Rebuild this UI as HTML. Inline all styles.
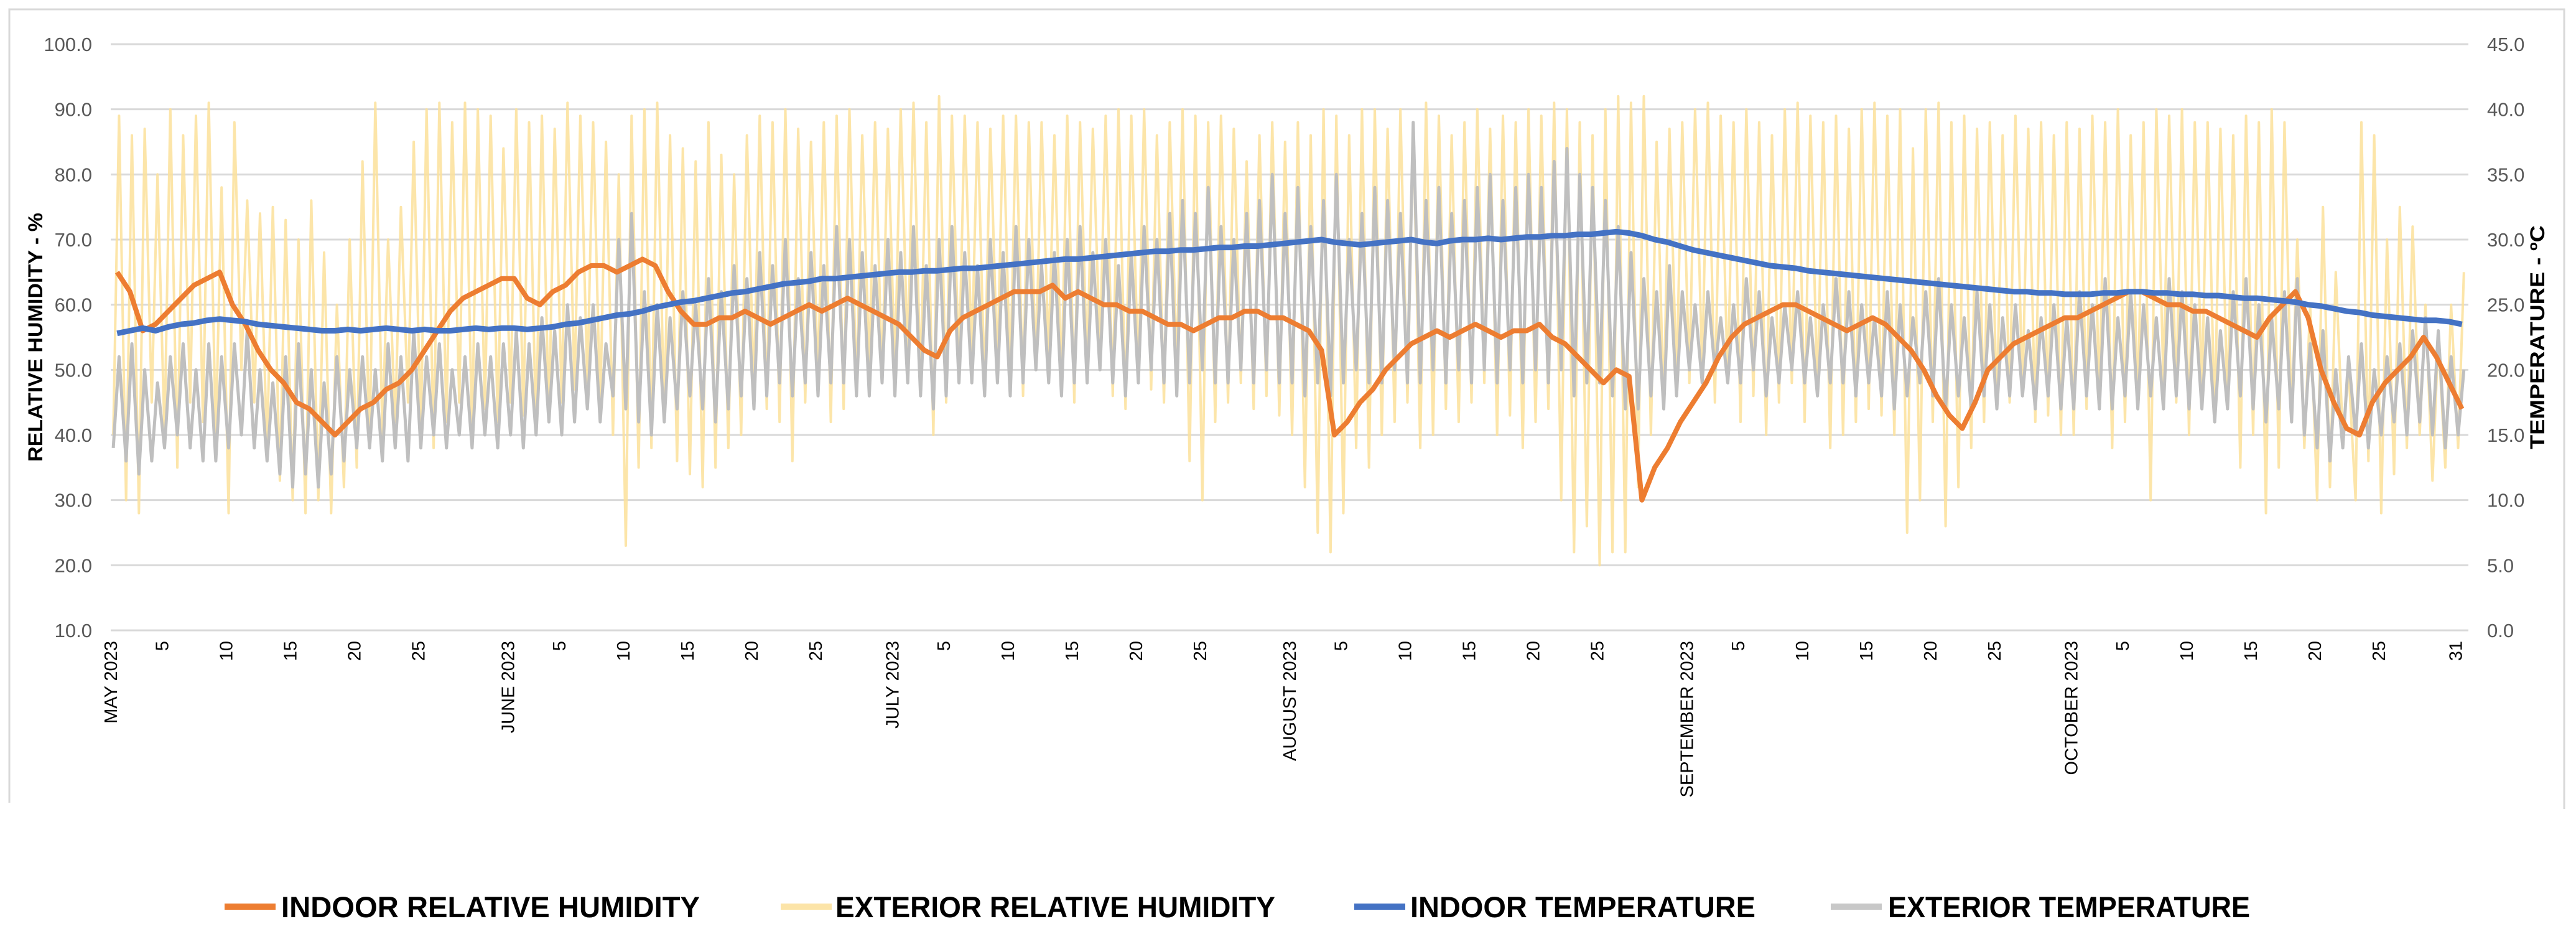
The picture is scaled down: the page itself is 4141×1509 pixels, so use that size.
<!DOCTYPE html>
<html><head><meta charset="utf-8"><style>
html,body{margin:0;padding:0;background:#fff;}
svg{display:block;font-family:"Liberation Sans",sans-serif;}
</style></head><body>
<svg id="chart" width="4141" height="1509" viewBox="0 0 4141 1509" xmlns="http://www.w3.org/2000/svg">
<rect x="0" y="0" width="4141" height="1509" fill="#fff"/>
<path d="M15 1290 V15 H4122 V1300" fill="none" stroke="#d9d9d9" stroke-width="3"/>
<g id="grid"></g>
<g id="series"></g>
<g id="axes"></g>
<text transform="translate(68,542) rotate(-90)" text-anchor="middle" font-weight="bold" font-size="32" textLength="400" lengthAdjust="spacingAndGlyphs" fill="#000">RELATIVE HUMIDITY - %</text>
<text transform="translate(4090,542) rotate(-90)" text-anchor="middle" font-weight="bold" font-size="32" textLength="360" lengthAdjust="spacingAndGlyphs" fill="#000">TEMPERATURE - ºC</text>
<g>
 <g>
  <line x1="361" y1="1457" x2="443" y2="1457" stroke="#ED7D31" stroke-width="10"/>
  <text x="452" y="1474" font-size="47" font-weight="bold" textLength="673" lengthAdjust="spacingAndGlyphs">INDOOR RELATIVE HUMIDITY</text>
 </g>
 <g>
  <line x1="1255" y1="1457" x2="1337" y2="1457" stroke="#FCE4A8" stroke-width="10"/>
  <text x="1343" y="1474" font-size="47" font-weight="bold" textLength="707" lengthAdjust="spacingAndGlyphs">EXTERIOR RELATIVE HUMIDITY</text>
 </g>
 <g>
  <line x1="2177" y1="1457" x2="2259" y2="1457" stroke="#4472C4" stroke-width="10"/>
  <text x="2267" y="1474" font-size="47" font-weight="bold" textLength="555" lengthAdjust="spacingAndGlyphs">INDOOR TEMPERATURE</text>
 </g>
 <g>
  <line x1="2943" y1="1457" x2="3025" y2="1457" stroke="#C8C8C8" stroke-width="10"/>
  <text x="3035" y="1474" font-size="47" font-weight="bold" textLength="582" lengthAdjust="spacingAndGlyphs">EXTERIOR TEMPERATURE</text>
 </g>
</g>
</svg>
<script>
const rhTicks = [10,20,30,40,50,60,70,80,90,100];
const tempTicks = [0,5,10,15,20,25,30,35,40,45];
const monthNames = ["MAY 2023","JUNE 2023","JULY 2023","AUGUST 2023","SEPTEMBER 2023","OCTOBER 2023"];
const monthLengths = [31,30,31,31,30,31];
const dayTicks = [5,10,15,20,25];

const indoorTemp = [
22.8,23.0,23.2,23.0,23.3,23.5,23.6,23.8,23.9,23.8,23.7,23.5,23.4,23.3,23.2,23.1,23.0,23.0,23.1,23.0,23.1,23.2,23.1,23.0,23.1,23.0,23.0,23.1,23.2,23.1,23.2,
23.2,23.1,23.2,23.3,23.5,23.6,23.8,24.0,24.2,24.3,24.5,24.8,25.0,25.2,25.3,25.5,25.7,25.9,26.0,26.2,26.4,26.6,26.7,26.8,27.0,27.0,27.1,27.2,27.3,27.4,
27.5,27.5,27.6,27.6,27.7,27.8,27.8,27.9,28.0,28.1,28.2,28.3,28.4,28.5,28.5,28.6,28.7,28.8,28.9,29.0,29.1,29.1,29.2,29.2,29.3,29.4,29.4,29.5,29.5,29.6,29.7,
29.8,29.9,30.0,29.8,29.7,29.6,29.7,29.8,29.9,30.0,29.8,29.7,29.9,30.0,30.0,30.1,30.0,30.1,30.2,30.2,30.3,30.3,30.4,30.4,30.5,30.6,30.5,30.3,30.0,29.8,29.5,
29.2,29.0,28.8,28.6,28.4,28.2,28.0,27.9,27.8,27.6,27.5,27.4,27.3,27.2,27.1,27.0,26.9,26.8,26.7,26.6,26.5,26.4,26.3,26.2,26.1,26.0,26.0,25.9,25.9,25.8,
25.8,25.8,25.9,25.9,26.0,26.0,25.9,25.9,25.8,25.8,25.7,25.7,25.6,25.5,25.5,25.4,25.3,25.2,25.0,24.9,24.7,24.5,24.4,24.2,24.1,24.0,23.9,23.8,23.8,23.7,23.5];

const indoorRH = [
65,62,56,57,59,61,63,64,65,60,57,53,50,48,45,44,42,40,42,44,45,47,48,50,53,56,59,61,62,63,64,
64,61,60,62,63,65,66,66,65,66,67,66,62,59,57,57,58,58,59,58,57,58,59,60,59,60,61,60,59,58,
57,55,53,52,56,58,59,60,61,62,62,62,63,61,62,61,60,60,59,59,58,57,57,56,57,58,58,59,59,58,58,
57,56,53,40,42,45,47,50,52,54,55,56,55,56,57,56,55,56,56,57,55,54,52,50,48,50,49,30,35,38,42,
45,48,52,55,57,58,59,60,60,59,58,57,56,57,58,57,55,53,50,46,43,41,45,50,52,54,55,56,57,58,
58,59,60,61,62,62,61,60,60,59,59,58,57,56,55,58,60,62,58,50,45,41,40,45,48,50,52,55,52,48,44];

const extRHHigh = [
89,86,87,80,90,86,89,91,78,88,76,74,75,73,70,76,68,60,70,82,91,70,75,85,90,91,88,91,90,89,84,
90,88,89,87,91,89,88,85,80,89,90,91,86,84,82,88,83,80,86,89,88,90,87,85,88,89,90,86,88,87,
90,91,88,92,89,89,88,87,89,89,88,88,86,89,88,87,89,90,89,90,86,88,90,89,88,89,87,82,86,88,85,
88,86,90,89,86,90,90,87,90,88,91,89,86,88,90,87,89,88,90,89,91,90,88,86,90,92,91,92,85,87,88,
90,91,89,88,90,88,86,90,91,89,88,89,87,90,91,89,90,84,90,91,88,89,87,88,86,89,87,88,86,88,
87,89,88,90,86,88,90,89,90,88,88,87,86,89,88,90,88,70,60,75,65,50,88,86,70,75,72,60,55,60,65];

const extRHLow = [
40,30,28,45,40,35,45,42,40,28,50,45,38,33,30,28,30,28,32,35,38,40,42,45,40,38,42,45,40,44,42,
45,43,40,42,45,47,48,44,40,23,35,38,42,36,34,32,35,38,40,46,44,42,36,45,48,42,44,46,50,48,
50,52,48,40,45,50,52,47,50,48,46,50,52,48,45,50,53,46,44,48,47,45,50,36,30,42,45,48,44,46,43,
40,32,25,22,28,38,35,40,42,45,38,40,44,42,45,48,40,43,38,42,44,30,22,26,20,22,22,32,40,44,48,
48,50,45,48,42,46,40,45,48,42,46,38,40,42,44,43,40,25,30,42,26,32,38,42,44,45,46,42,43,40,
40,44,45,38,42,44,30,48,45,40,46,42,44,35,40,28,35,42,38,30,32,40,30,36,28,34,38,40,33,35,38];

const extTempHigh = [
21,22,20,19,21,22,20,22,21,22,23,20,19,21,22,20,19,21,20,21,20,22,21,23,21,22,20,21,22,21,22,
23,22,24,23,25,24,25,22,30,32,26,25,24,26,25,27,26,28,27,29,28,30,27,29,28,31,30,29,28,30,
29,31,28,30,31,29,28,30,29,31,30,28,29,30,31,29,30,28,29,31,30,32,33,32,34,31,30,32,33,35,32,
34,31,33,35,30,32,34,33,32,39,33,34,32,33,34,35,33,34,35,34,36,37,35,34,33,31,29,27,26,28,26,
25,26,24,25,27,26,24,25,26,24,25,27,26,25,24,26,25,24,26,27,25,24,26,25,24,25,23,24,25,24,
26,25,27,24,26,25,24,27,26,25,24,23,26,27,25,24,26,27,22,23,20,21,22,20,21,22,23,24,23,21,20];

const extTempLow = [
14,13,12,13,14,15,14,13,13,14,15,14,13,12,11,12,11,12,13,14,14,13,14,13,14,15,14,15,14,15,14,
15,14,15,16,15,16,17,16,18,17,16,15,16,17,18,17,16,17,18,17,18,19,18,19,18,19,19,18,18,19,
18,19,18,17,18,19,19,18,19,18,19,20,19,18,19,19,20,19,18,19,20,19,18,19,20,19,19,20,19,20,19,
19,18,19,18,19,20,19,19,20,19,19,20,19,20,19,20,19,20,19,20,19,20,18,19,19,18,17,17,18,17,18,
20,19,20,19,19,20,18,19,20,19,18,19,19,18,19,18,17,18,19,18,17,18,17,18,17,18,18,17,18,17,
17,18,17,17,18,17,18,17,18,17,17,16,17,18,17,16,17,16,15,14,13,14,15,14,15,16,15,16,15,14,15];

const NS = "http://www.w3.org/2000/svg";
const X0 = 178, X1 = 3968, Y_TOP = 71, Y_BOT = 1013, TOTAL_DAYS = 184;
function xScale(d){ return X0 + d * (X1 - X0) / TOTAL_DAYS; }
function yRH(v){ return Y_BOT - (v - 10) * (Y_BOT - Y_TOP) / 90; }
function yT(v){ return Y_BOT - v * (Y_BOT - Y_TOP) / 45; }

const grid = document.getElementById('grid');
const axes = document.getElementById('axes');
const series = document.getElementById('series');

rhTicks.forEach(function(t){
  const ln = document.createElementNS(NS,'line');
  
  
  ln.setAttribute('x1',X0); ln.setAttribute('x2',X1);
  ln.setAttribute('y1',yRH(t)); ln.setAttribute('y2',yRH(t));
  ln.setAttribute('stroke','#d9d9d9'); ln.setAttribute('stroke-width','3');
  grid.appendChild(ln);
  const tx = document.createElementNS(NS,'text');
  
  
  tx.setAttribute('x',148); tx.setAttribute('y',yRH(t)+11);
  tx.setAttribute('text-anchor','end'); tx.setAttribute('font-size','31'); tx.setAttribute('fill','#595959');
  tx.textContent = t.toFixed(1);
  axes.appendChild(tx);
});
tempTicks.forEach(function(t){
  const tx = document.createElementNS(NS,'text');
  
  
  tx.setAttribute('x',3998); tx.setAttribute('y',yT(t)+11);
  tx.setAttribute('font-size','31'); tx.setAttribute('fill','#595959');
  tx.textContent = t.toFixed(1);
  axes.appendChild(tx);
});

function xLabel(idx, label){
  const tx = document.createElementNS(NS,'text');
  
  
  tx.setAttribute('transform','translate('+(xScale(idx)+10)+',1030) rotate(-90)');
  tx.setAttribute('text-anchor','end'); tx.setAttribute('font-size','29'); tx.setAttribute('fill','#000');
  tx.textContent = label;
  axes.appendChild(tx);
}
let start = 0;
monthNames.forEach(function(m, i){
  xLabel(start, m);
  dayTicks.forEach(function(d){ xLabel(start + d - 1, String(d)); });
  if (i === monthNames.length - 1) xLabel(start + monthLengths[i] - 1, String(monthLengths[i]));
  start += monthLengths[i];
});

function dailyPath(arr, yf){
  return arr.map(function(v,i){ return (i?'L':'M') + xScale(i+0.5).toFixed(1) + ' ' + yf(v).toFixed(1); }).join(' ');
}
function hiLoPath(hi, lo, yf){
  const parts = [];
  for (let i = 0; i < hi.length; i++){
    parts.push((i?'L':'M') + xScale(i+0.2).toFixed(1) + ' ' + yf(lo[i]).toFixed(1));
    parts.push('L' + xScale(i+0.65).toFixed(1) + ' ' + yf(hi[i]).toFixed(1));
  }
  return parts.join(' ');
}
function addPath(d, color, w, name, op){
  const p = document.createElementNS(NS,'path');
  
  
  p.setAttribute('d', d); p.setAttribute('fill','none');
  p.setAttribute('stroke', color); p.setAttribute('stroke-width', w);
  p.setAttribute('stroke-linejoin','round');
  if (op) p.setAttribute('opacity', op);
  series.appendChild(p);
}
addPath(hiLoPath(extRHHigh, extRHLow, yRH), '#FCE19A', 4, 'exterior-rh-line', 0.85);
addPath(hiLoPath(extTempHigh, extTempLow, yT), '#BFBFBF', 5, 'exterior-temperature-line');
addPath(dailyPath(indoorRH, yRH), '#ED7D31', 8, 'indoor-rh-line');
addPath(dailyPath(indoorTemp, yT), '#4472C4', 9, 'indoor-temperature-line');
</script>
</body></html>
